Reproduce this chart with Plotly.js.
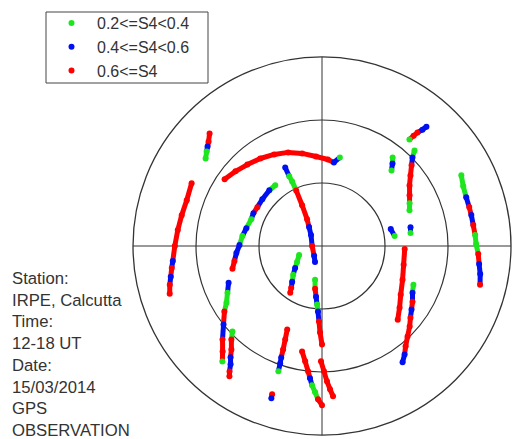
<!DOCTYPE html>
<html>
<head>
<meta charset="utf-8">
<script src="https://cdn.plot.ly/plotly-3.0.1.min.js"></script>
<style>html,body{margin:0;padding:0;background:#fff}#chart{width:515px;height:439px}</style>
</head>
<body>
<div id="chart"></div>
<script>
// S4 classes (legend order): 0 = 0.2<=S4<0.4, 1 = 0.4<=S4<0.6, 2 = 0.6<=S4
const s4Labels = ['0.2&lt;=S4&lt;0.4', '0.4&lt;=S4&lt;0.6', '0.6&lt;=S4'];
const s4Colors = ['#1ee61e', '#0010f0', '#ff0000'];

// Satellite passes: azimuth (deg, clockwise from north), elevation (deg), S4 class per sample
const azimuth = [
  [315.0, 312.6, 311.0, 309.3, 306.9],
  [295.7, 288.7, 282.4, 276.3, 270.0, 264.3, 261.7, 258.5, 255.7, 252.6],
  [304.4, 310.8, 317.5, 324.8, 332.4, 340.1, 347.9, 356.2, 3.9, 8.1, 11.4],
  [334.9, 334.8, 335.2, 335.1, 334.0, 330.9, 325.6, 315.0, 270.0, 218.7, 203.6],
  [322.4, 316.6, 308.1, 301.0, 295.6, 290.8, 283.3, 277.1, 270.7, 265.3, 260.3, 255.7],
  [248.5, 243.7, 239.3, 236.1, 231.4, 226.8, 223.3, 220.8],
  [226.3, 224.1, 221.2, 219.4, 217.7, 216.4, 215.4],
  [202.6, 201.5, 200.6, 200.1, 199.6, 199.2],
  [198.6, 198.4],
  [190.7, 188.3, 186.3, 185.2, 184.1, 182.7, 181.5, 180.0],
  [180.5, 179.1, 177.9, 176.8, 175.8],
  [191.6, 189.2, 186.7, 184.8, 183.5, 182.3, 181.3, 180.0],
  [248.6, 237.4, 230.8, 225.0, 219.8, 216.4, 214.2],
  [76.2, 82.2],
  [78.0, 81.7],
  [44.1, 45.6, 48.0, 51.4, 55.3, 59.9, 64.0, 67.8],
  [41.2, 40.8, 40.1, 39.7, 39.4],
  [38.6, 40.5, 42.6],
  [63.1, 67.1, 71.3, 75.2, 78.3, 82.1, 85.9, 89.3, 92.9, 96.5, 100.0, 103.8],
  [92.1, 103.0, 112.8, 121.8, 128.5, 134.2],
  [113.0, 117.3, 121.6, 125.4, 129.0, 132.6, 136.6, 140.2, 142.7, 145.3]
];
const elevation = [
  [14.3, 16.6, 17.8, 19.0, 20.7],
  [21.1, 22.0, 21.6, 20.9, 19.9, 18.6, 17.7, 16.5, 15.2, 14.0],
  [33.8, 35.6, 37.4, 39.0, 40.8, 42.6, 44.9, 47.3, 48.7, 49.8, 47.0],
  [48.7, 53.3, 56.1, 60.8, 68.4, 75.4, 79.1, 82.6, 85.3, 84.0, 81.7],
  [53.5, 53.5, 53.9, 54.1, 53.8, 54.0, 53.0, 51.8, 50.7, 49.1, 47.7, 46.0],
  [42.2, 39.8, 37.1, 34.0, 30.0, 25.0, 21.0, 17.4],
  [31.0, 28.0, 24.5, 21.4, 18.8, 15.8, 13.9],
  [46.9, 42.2, 37.4, 33.5, 30.6, 26.8],
  [15.5, 13.6],
  [38.9, 34.5, 29.9, 26.8, 23.5, 20.3, 17.0, 14.2],
  [35.1, 30.3, 25.5, 21.7, 18.3],
  [73.6, 69.4, 65.7, 62.0, 58.7, 54.0, 48.8, 43.1],
  [78.3, 75.9, 73.5, 70.6, 67.8, 65.3, 63.1],
  [56.3, 55.1],
  [46.9, 47.4],
  [26.7, 29.7, 32.6, 36.1, 39.3, 41.8, 43.6, 45.0],
  [14.5, 16.8, 19.4, 21.7, 24.4],
  [36.1, 38.3, 41.1],
  [15.6, 17.0, 17.5, 17.5, 17.4, 17.3, 16.9, 16.6, 15.5, 14.7, 13.5, 12.5],
  [50.6, 50.1, 48.4, 45.9, 42.8, 39.7],
  [42.7, 41.5, 39.4, 37.7, 35.8, 33.3, 30.7, 27.8, 25.1, 22.6]
];
const s4Class = [
  [2, 2, 1, 0, 0],
  [2, 2, 2, 2, 2, 1, 2, 1, 2, 2],
  [2, 2, 2, 2, 2, 2, 2, 2, 2, 1, 0],
  [1, 0, 0, 2, 2, 2, 1, 1, 2, 1, 1],
  [0, 1, 1, 2, 1, 0, 1, 0, 1, 1, 2, 2],
  [1, 0, 0, 2, 1, 2, 2, 0],
  [0, 2, 2, 1, 1, 2, 2],
  [2, 2, 2, 1, 1, 0],
  [2, 1],
  [2, 2, 2, 1, 0, 0, 2, 2],
  [2, 2, 2, 2, 2],
  [0, 2, 1, 0, 1, 2, 2, 2],
  [0, 0, 1, 0, 1, 2, 2],
  [1, 0],
  [1, 0],
  [0, 1, 2, 2, 2, 2, 0, 0],
  [1, 1, 2, 2, 0],
  [0, 1, 0],
  [0, 0, 1, 2, 1, 2, 0, 0, 2, 1, 1, 2],
  [2, 2, 2, 2, 2, 2],
  [0, 1, 2, 1, 2, 2, 2, 2, 1, 1]
];
const stationInfo = ['Station:', 'IRPE, Calcutta', 'Time:', '12-18 UT', 'Date:', '15/03/2014', 'GPS', 'OBSERVATION'];

const FONT = 'Liberation Sans, Arial, sans-serif';
const lineData = s4Labels.map(() => ({ r: [], theta: [] }));
const dotData = s4Labels.map(() => ({ r: [], theta: [] }));
azimuth.forEach((az, t) => {
  const el = elevation[t], cls = s4Class[t];
  for (let i = 0; i < az.length; i++) {
    const c = cls[i];
    dotData[c].r.push(90 - el[i]);
    dotData[c].theta.push(az[i]);
    if (i < az.length - 1) {
      lineData[c].r.push(90 - el[i], 90 - el[i + 1], null);
      lineData[c].theta.push(az[i], az[i + 1], null);
    }
  }
});

const drawOrder = [2, 1, 0];
const traces = [];
drawOrder.forEach(c => traces.push({
  type: 'scatterpolar', mode: 'lines', r: lineData[c].r, theta: lineData[c].theta,
  line: { color: s4Colors[c], width: 5 }, showlegend: false, hoverinfo: 'skip', connectgaps: false
}));
drawOrder.forEach(c => traces.push({
  type: 'scatterpolar', mode: 'markers', name: s4Labels[c], r: dotData[c].r, theta: dotData[c].theta,
  marker: { color: s4Colors[c], size: 6 }
}));

const layout = {
  width: 515, height: 439,
  margin: { l: 0, r: 0, t: 0, b: 0 },
  paper_bgcolor: '#fff',
  showlegend: true,
  legend: {
    x: 46 / 515, y: 433 / 439, xanchor: 'left', yanchor: 'top',
    borderwidth: 0, bgcolor: 'rgba(0,0,0,0)',
    font: { family: FONT, size: 16, color: '#333' },
    traceorder: 'reversed', itemwidth: 41
  },
  // legend frame
  shapes: [{
    type: 'rect', xref: 'paper', yref: 'paper',
    x0: 46 / 515, x1: 208 / 515, y0: 1 - 83 / 439, y1: 1 - 12 / 439,
    line: { color: '#444', width: 1 }, fillcolor: 'rgba(0,0,0,0)', layer: 'above'
  }],
  polar: {
    domain: { x: [133 / 515, 511 / 515], y: [4 / 439, 382 / 439] },
    bgcolor: '#fff',
    radialaxis: {
      range: [0, 90], tickvals: [30, 60, 90], showticklabels: false, ticks: '',
      showline: false, gridcolor: '#333', gridwidth: 1.2
    },
    angularaxis: {
      rotation: 90, direction: 'clockwise', tickvals: [0, 90, 180, 270],
      showticklabels: false, ticks: '', showline: true, linecolor: '#333', linewidth: 1.3,
      gridcolor: '#333', gridwidth: 1
    }
  },
  annotations: [{
    xref: 'paper', yref: 'paper', x: 10 / 515, xanchor: 'left', y: 1 - 267 / 439, yanchor: 'top',
    align: 'left', showarrow: false, text: stationInfo.join('<br>'),
    font: { family: FONT, size: 16.7, color: '#333' }
  }]
};

Plotly.newPlot('chart', traces, layout, { displayModeBar: false, staticPlot: true });
</script>
</body>
</html>
